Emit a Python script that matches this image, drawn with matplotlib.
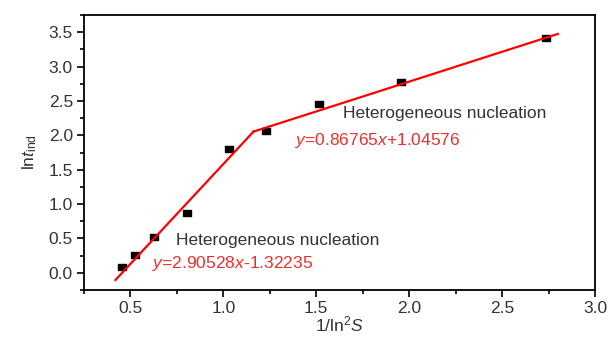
import matplotlib
matplotlib.use("Agg")
import numpy as np
import matplotlib.pyplot as plt
from matplotlib.ticker import MultipleLocator, FormatStrFormatter

inv_ln2_s = [0.453, 0.523, 0.626, 0.805, 1.032, 1.227, 1.513, 1.956, 2.734]
ln_t_ind = [0.083, 0.257, 0.518, 0.866, 1.795, 2.057, 2.45, 2.77, 3.41]

# Fitgeraden (Steigung, Achsenabschnitt)
fit1 = (2.90528, -1.32235)
fit2 = (0.86765, 1.04576)
x_start, x_end = 0.419, 2.80
x_cross = (fit2[1] - fit1[1]) / (fit1[0] - fit2[0])

base = "Liberation Sans"
plt.rcParams["font.family"] = [base, "DejaVu Sans"]
plt.rcParams["mathtext.fontset"] = "custom"
plt.rcParams["mathtext.rm"] = base
plt.rcParams["mathtext.it"] = base + ":italic"

fig = plt.figure(figsize=(6.09, 3.38), dpi=100)
ax = fig.add_axes([84 / 609, 1 - 290 / 338, (595 - 84) / 609, (290 - 15) / 338])

x1 = np.array([x_start, x_cross])
x2 = np.array([x_cross, x_end])
ax.plot(x1, fit1[0] * x1 + fit1[1], color="#ff0000", lw=1.6, zorder=3)
ax.plot(x2, fit2[0] * x2 + fit2[1], color="#ff0000", lw=1.6, zorder=3)

# rechteckige Marker (breiter als hoch)
rect = [(-1, -0.8), (1, -0.8), (1, 0.8), (-1, 0.8), (-1, -0.8)]
ax.plot(inv_ln2_s, ln_t_ind, linestyle="none", marker=rect, color="black", ms=5.5, zorder=2)

text_col = "#333333"
eq_col = "#e8312f"
fs = 12.5
ax.text(0.743, 0.475, "Heterogeneous nucleation", color=text_col, fontsize=fs, va="center")
ax.text(0.614, 0.136, r"$\it{y}$=2.90528$\it{x}$-1.32235", color=eq_col, fontsize=fs, va="center")
ax.text(1.642, 2.318, "Heterogeneous nucleation", color=text_col, fontsize=fs, va="center")
ax.text(1.388, 1.926, r"$\it{y}$=0.86765$\it{x}$+1.04576", color=eq_col, fontsize=fs, va="center")

ax.set_xlim(0.25, 3.0)
ax.set_ylim(-0.25, 3.75)
ax.xaxis.set_major_locator(MultipleLocator(0.5))
ax.xaxis.set_minor_locator(MultipleLocator(0.25))
ax.yaxis.set_major_locator(MultipleLocator(0.5))
ax.yaxis.set_minor_locator(MultipleLocator(0.25))
ax.xaxis.set_major_formatter(FormatStrFormatter("%.1f"))
ax.yaxis.set_major_formatter(FormatStrFormatter("%.1f"))
ax.tick_params(which="both", direction="out", top=False, right=False, colors="black",
               labelcolor=text_col, labelsize=fs, width=1.2)
ax.tick_params(which="major", length=5, pad=3)
ax.tick_params(which="minor", length=3)
for sp in ax.spines.values():
    sp.set_linewidth(1.3)

ax.set_xlabel(r"1/ln$^2$$\it{S}$", fontsize=fs, color=text_col, labelpad=-1)
ax.set_ylabel(r"ln$\it{t}_{\rm ind}$", fontsize=fs, color=text_col, labelpad=7)

fig.savefig("out.png", dpi=100)
